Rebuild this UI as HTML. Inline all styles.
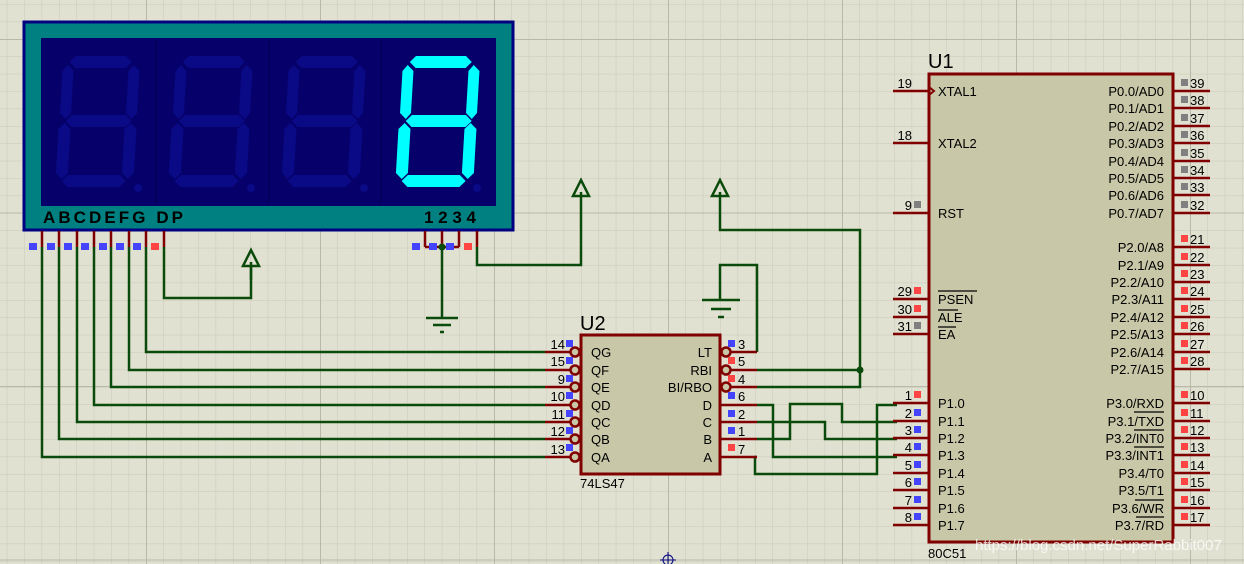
<!DOCTYPE html>
<html><head><meta charset="utf-8"><style>
html,body{margin:0;padding:0;background:#e1e1d2;}
svg{display:block}
text{font-family:"Liberation Sans",sans-serif;}
</style></head><body>
<svg width="1244" height="564" viewBox="0 0 1244 564" xmlns="http://www.w3.org/2000/svg">
<defs>
<pattern id="g" x="6.8" y="4.2" width="17.4" height="17.4" patternUnits="userSpaceOnUse">
<path d="M0 0H17.4M0 0V17.4" stroke="#c9c9b9" stroke-width="1" fill="none"/>
</pattern>
<pattern id="G" x="146" y="39" width="174" height="173.5" patternUnits="userSpaceOnUse">
<path d="M0 0H174M0 0V174" stroke="#b9b9a9" stroke-width="2" fill="none"/>
</pattern>
<g id="d8">
<polygon points="14,0 64,0 70,6 64,12 14,12 8,6"/>
<polygon points="6,9 12,15 11,57 6,63 0,57 1,15"/>
<polygon points="72,9 78,15 77,57 72,63 66,57 67,15"/>
<polygon points="12,59 66,59 72,65 66,71 12,71 6,65"/>
<polygon points="5,67 11,73 10,117 4,123 -2,117 -1,73"/>
<polygon points="71,67 77,73 76,117 70,123 64,117 65,73"/>
<polygon points="10,119 62,119 68,125 62,131 10,131 4,125"/>
</g>
</defs>
<rect width="1244" height="564" fill="url(#g)"/>
<rect width="1244" height="564" fill="url(#G)"/>

<!-- Display -->
<rect x="24" y="22" width="489" height="208" fill="#008080" stroke="#000080" stroke-width="3"/>
<rect x="41" y="38" width="455" height="168" fill="#06006a"/>
<g stroke="#000050" stroke-width="1"><line x1="156" y1="40" x2="156" y2="204"/><line x1="269" y1="40" x2="269" y2="204"/><line x1="381" y1="40" x2="381" y2="204"/></g>
<g fill="#0a0a86">
<use href="#d8" transform="translate(62,56) skewX(-2)"/>
<use href="#d8" transform="translate(175,56) skewX(-2)"/>
<use href="#d8" transform="translate(288,56) skewX(-2)"/>
<circle cx="138" cy="188" r="4"/><circle cx="251" cy="188" r="4"/><circle cx="364" cy="188" r="4"/><circle cx="477" cy="188" r="4"/>
</g>
<g fill="#00ffff"><use href="#d8" transform="translate(402,56) skewX(-2)"/></g>
<text x="43" y="223" font-size="17" font-weight="bold" fill="#000" font-family="DejaVu Sans Mono,monospace" textLength="140">ABCDEFG DP</text>
<text x="424" y="223" font-size="17" font-weight="bold" fill="#000" font-family="DejaVu Sans Mono,monospace" textLength="52">1234</text>

<!-- display pins -->
<g stroke="#800000" stroke-width="2.5">
<path d="M42 231V247M59 231V247M77 231V247M94 231V247M111 231V247M129 231V247M146 231V247M164 231V247M425 231V247M442 231V247M459 231V247M477 231V247M425 247H459"/>
</g>
<g fill="#4444ff"><rect x="29" y="243" width="8" height="7"/><rect x="47" y="243" width="8" height="7"/><rect x="64" y="243" width="8" height="7"/><rect x="81" y="243" width="8" height="7"/><rect x="99" y="243" width="8" height="7"/><rect x="116" y="243" width="8" height="7"/><rect x="133" y="243" width="8" height="7"/><rect x="412" y="243" width="8" height="7"/><rect x="429" y="243" width="8" height="7"/><rect x="446" y="243" width="8" height="7"/></g>
<g fill="#ff4444"><rect x="151" y="243" width="8" height="7"/><rect x="464" y="243" width="8" height="7"/></g>

<!-- wires -->
<g stroke="#0a4a0a" stroke-width="2.5" fill="none">
<path d="M42 247V457H545M59 247V439H545M77 247V422H545M94 247V405H545M111 247V387H545M129 247V370H545M146 247V352H545"/>
<path d="M164 247V298H251V262"/>
<path d="M442 247V318"/>
<path d="M477 247V265H581V192"/>
<path d="M757 352V265H720V300"/>
<path d="M757 370H860"/>
<path d="M757 387H860V230H720V192"/>
<path d="M757 405H773V457H897"/>
<path d="M757 422H825V439H897"/>
<path d="M757 439H790V404H842V422H897"/>
<path d="M757 457H755V474H877V405H897"/>
<path d="M426 318H458M433 325H451M440 332H444"/>
<path d="M702 300H740M711 309H731M718 317H724"/>
<path d="M251 250L243 266H259ZM251 266V280M581 180L573 196H589ZM720 180L712 196H728Z"/>
</g>
<circle cx="442" cy="247" r="3.5" fill="#0a4a0a"/>
<circle cx="860" cy="370" r="3.5" fill="#0a4a0a"/>

<!-- U2 -->
<rect x="581" y="335" width="139" height="139" fill="#c8c8a8" stroke="#800000" stroke-width="3"/>
<text x="580" y="330" font-size="20">U2</text>
<text x="580" y="488" font-size="13">74LS47</text>
<g stroke="#800000" stroke-width="2.5" fill="#c8c8a8">
<path d="M545 352H570M545 370H570M545 387H570M545 405H570M545 422H570M545 439H570M545 457H570"/>
<circle cx="575" cy="352" r="4.5"/><circle cx="575" cy="370" r="4.5"/><circle cx="575" cy="387" r="4.5"/><circle cx="575" cy="405" r="4.5"/><circle cx="575" cy="422" r="4.5"/><circle cx="575" cy="439" r="4.5"/><circle cx="575" cy="457" r="4.5"/>
<path d="M731 352H757M731 370H757M731 387H757M721 405H757M721 422H757M721 439H757M721 457H757"/>
<circle cx="726" cy="352" r="4.5"/><circle cx="726" cy="370" r="4.5"/><circle cx="726" cy="387" r="4.5"/>
</g>
<g font-size="13" fill="#000">
<text x="591" y="357">QG</text><text x="591" y="375">QF</text><text x="591" y="392">QE</text><text x="591" y="410">QD</text><text x="591" y="427">QC</text><text x="591" y="444">QB</text><text x="591" y="462">QA</text>
<g text-anchor="end"><text x="712" y="357">LT</text><text x="712" y="375">RBI</text><text x="712" y="392">BI/RBO</text><text x="712" y="410">D</text><text x="712" y="427">C</text><text x="712" y="444">B</text><text x="712" y="462">A</text>
<text x="565" y="349">14</text><text x="565" y="366">15</text><text x="565" y="384">9</text><text x="565" y="401">10</text><text x="565" y="419">11</text><text x="565" y="436">12</text><text x="565" y="454">13</text></g>
<text x="738" y="349">3</text><text x="738" y="366">5</text><text x="738" y="384">4</text><text x="738" y="401">6</text><text x="738" y="419">2</text><text x="738" y="436">1</text><text x="738" y="454">7</text>
</g>
<g fill="#4444ff"><rect x="566" y="340" width="7" height="7"/><rect x="566" y="357" width="7" height="7"/><rect x="566" y="375" width="7" height="7"/><rect x="566" y="392" width="7" height="7"/><rect x="566" y="410" width="7" height="7"/><rect x="566" y="427" width="7" height="7"/><rect x="566" y="444" width="7" height="7"/><rect x="728" y="340" width="7" height="7"/><rect x="728" y="392" width="7" height="7"/><rect x="728" y="410" width="7" height="7"/><rect x="728" y="427" width="7" height="7"/></g>
<g fill="#ff4444"><rect x="728" y="357" width="7" height="7"/><rect x="728" y="375" width="7" height="7"/><rect x="728" y="444" width="7" height="7"/></g>

<!-- U1 -->
<rect x="929" y="74" width="244" height="468" fill="#c8c8a8" stroke="#800000" stroke-width="3"/>
<text x="928" y="68" font-size="20">U1</text>
<text x="928" y="558" font-size="13">80C51</text>
<path d="M929 87L934 91L929 95" stroke="#800000" stroke-width="2" fill="none"/>
<g stroke="#800000" stroke-width="2.5">
<path d="M893 91H929M893 143H929M893 213H929M893 299H929M893 317H929M893 334H929M893 403H929M893 421H929M893 438H929M893 455H929M893 473H929M893 490H929M893 508H929M893 525H929"/>
<path d="M1173 91H1210M1173 108H1210M1173 126H1210M1173 143H1210M1173 161H1210M1173 178H1210M1173 195H1210M1173 213H1210M1173 247H1210M1173 265H1210M1173 282H1210M1173 299H1210M1173 317H1210M1173 334H1210M1173 352H1210M1173 369H1210M1173 403H1210M1173 421H1210M1173 438H1210M1173 455H1210M1173 473H1210M1173 490H1210M1173 508H1210M1173 525H1210"/>
</g>
<g font-size="13" fill="#000">
<text x="938" y="96">XTAL1</text><text x="938" y="148">XTAL2</text><text x="938" y="218">RST</text>
<text x="938" y="304">PSEN</text><text x="938" y="322">ALE</text><text x="938" y="339">EA</text>
<text x="938" y="408">P1.0</text><text x="938" y="426">P1.1</text><text x="938" y="443">P1.2</text><text x="938" y="460">P1.3</text><text x="938" y="478">P1.4</text><text x="938" y="495">P1.5</text><text x="938" y="513">P1.6</text><text x="938" y="530">P1.7</text>
<g text-anchor="end">
<text x="1164" y="96">P0.0/AD0</text><text x="1164" y="113">P0.1/AD1</text><text x="1164" y="131">P0.2/AD2</text><text x="1164" y="148">P0.3/AD3</text><text x="1164" y="166">P0.4/AD4</text><text x="1164" y="183">P0.5/AD5</text><text x="1164" y="200">P0.6/AD6</text><text x="1164" y="218">P0.7/AD7</text>
<text x="1164" y="252">P2.0/A8</text><text x="1164" y="270">P2.1/A9</text><text x="1164" y="287">P2.2/A10</text><text x="1164" y="304">P2.3/A11</text><text x="1164" y="322">P2.4/A12</text><text x="1164" y="339">P2.5/A13</text><text x="1164" y="357">P2.6/A14</text><text x="1164" y="374">P2.7/A15</text>
<text x="1164" y="408">P3.0/RXD</text><text x="1164" y="426">P3.1/TXD</text><text x="1164" y="443">P3.2/INT0</text><text x="1164" y="460">P3.3/INT1</text><text x="1164" y="478">P3.4/T0</text><text x="1164" y="495">P3.5/T1</text><text x="1164" y="513">P3.6/WR</text><text x="1164" y="530">P3.7/RD</text>
<text x="912" y="88">19</text><text x="912" y="140">18</text><text x="912" y="210">9</text><text x="912" y="296">29</text><text x="912" y="314">30</text><text x="912" y="331">31</text>
<text x="912" y="400">1</text><text x="912" y="418">2</text><text x="912" y="435">3</text><text x="912" y="452">4</text><text x="912" y="470">5</text><text x="912" y="487">6</text><text x="912" y="505">7</text><text x="912" y="522">8</text>
</g>
<text x="1190" y="88">39</text><text x="1190" y="105">38</text><text x="1190" y="123">37</text><text x="1190" y="140">36</text><text x="1190" y="158">35</text><text x="1190" y="175">34</text><text x="1190" y="192">33</text><text x="1190" y="210">32</text>
<text x="1190" y="244">21</text><text x="1190" y="262">22</text><text x="1190" y="279">23</text><text x="1190" y="296">24</text><text x="1190" y="314">25</text><text x="1190" y="331">26</text><text x="1190" y="349">27</text><text x="1190" y="366">28</text>
<text x="1190" y="400">10</text><text x="1190" y="418">11</text><text x="1190" y="435">12</text><text x="1190" y="452">13</text><text x="1190" y="470">14</text><text x="1190" y="487">15</text><text x="1190" y="505">16</text><text x="1190" y="522">17</text>
</g>
<g stroke="#000" stroke-width="1.2"><path d="M938 291H977M938 310H958M938 327H956M1134 412H1164M1134 430H1164M1134 447H1164M1135 500H1164M1136 517H1164"/></g>
<g fill="#808080"><rect x="914" y="201" width="7" height="7"/><rect x="914" y="322" width="7" height="7"/>
<rect x="1181" y="79" width="7" height="7"/><rect x="1181" y="96" width="7" height="7"/><rect x="1181" y="114" width="7" height="7"/><rect x="1181" y="131" width="7" height="7"/><rect x="1181" y="149" width="7" height="7"/><rect x="1181" y="166" width="7" height="7"/><rect x="1181" y="183" width="7" height="7"/><rect x="1181" y="201" width="7" height="7"/></g>
<g fill="#ff4444"><rect x="914" y="287" width="7" height="7"/><rect x="914" y="305" width="7" height="7"/><rect x="914" y="391" width="7" height="7"/>
<rect x="1181" y="235" width="7" height="7"/><rect x="1181" y="253" width="7" height="7"/><rect x="1181" y="270" width="7" height="7"/><rect x="1181" y="287" width="7" height="7"/><rect x="1181" y="305" width="7" height="7"/><rect x="1181" y="322" width="7" height="7"/><rect x="1181" y="340" width="7" height="7"/><rect x="1181" y="357" width="7" height="7"/>
<rect x="1181" y="391" width="7" height="7"/><rect x="1181" y="409" width="7" height="7"/><rect x="1181" y="426" width="7" height="7"/><rect x="1181" y="443" width="7" height="7"/><rect x="1181" y="461" width="7" height="7"/><rect x="1181" y="478" width="7" height="7"/><rect x="1181" y="496" width="7" height="7"/><rect x="1181" y="513" width="7" height="7"/></g>
<g fill="#4444ff"><rect x="914" y="409" width="7" height="7"/><rect x="914" y="426" width="7" height="7"/><rect x="914" y="443" width="7" height="7"/><rect x="914" y="461" width="7" height="7"/><rect x="914" y="478" width="7" height="7"/><rect x="914" y="496" width="7" height="7"/><rect x="914" y="513" width="7" height="7"/></g>

<g stroke="#000080" stroke-width="1" fill="none"><circle cx="668" cy="560" r="5"/><path d="M660 560H676M668 552V564"/></g>
<text x="975" y="550" font-size="15" fill="#ffffff" fill-opacity="0.75">https://blog.csdn.net/SuperRabbit007</text>
</svg>
</body></html>
